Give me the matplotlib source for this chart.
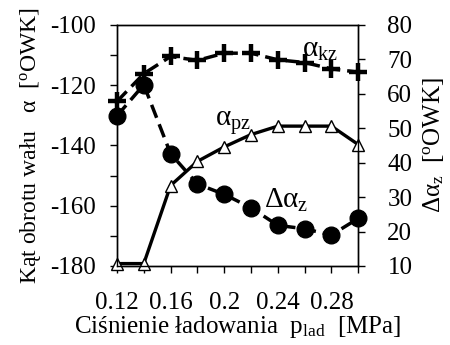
import matplotlib
matplotlib.use("Agg")
import matplotlib.pyplot as plt
import matplotlib.transforms as mtransforms

plt.rcParams["font.family"] = ["Liberation Serif", "DejaVu Serif"]
plt.rcParams["mathtext.fontset"] = "custom"
plt.rcParams["mathtext.rm"] = "Liberation Serif"
plt.rcParams["mathtext.it"] = "Liberation Serif"

# charging pressure [MPa]
p_lad = [0.12, 0.14, 0.16, 0.18, 0.20, 0.22, 0.24, 0.26, 0.28, 0.30]
# crank angles [deg OWK], left axis
alpha_kz = [-125.4, -116.2, -110.5, -111.8, -109.4, -109.4, -111.6, -112.5, -114.6, -115.7]
alpha_pz = [-179.2, -179.2, -153.3, -145.3, -140.5, -136.4, -133.6, -133.6, -133.6, -139.7]
# delta alpha, right axis
delta_alpha = [53.6, 62.6, 42.6, 33.8, 30.8, 26.9, 21.8, 20.8, 19.0, 23.8]

x_ticks = [0.12, 0.14, 0.16, 0.18, 0.20, 0.22, 0.24, 0.26, 0.28, 0.30]
x_labels = ["0.12", "", "0.16", "", "0.2", "", "0.24", "", "0.28", ""]
left_ticks = [-180, -160, -140, -120, -100]
right_ticks = [10, 20, 30, 40, 50, 60, 70, 80]

FS = 18

fig = plt.figure(figsize=(4.5, 3.45), dpi=100)
ax = fig.add_axes([0.26, 0.229, 0.536, 0.699])
ax2 = ax.twinx()

ax.plot(p_lad, alpha_kz, color="black", lw=2.5, ls=(0, (4, 2)),
        marker="+", markersize=13, markeredgewidth=3.2, clip_on=False, zorder=3)
ax.plot(p_lad, alpha_pz, color="black", lw=2.4, ls="-",
        marker="^", markersize=8, markerfacecolor="white",
        markeredgecolor="black", markeredgewidth=1.0, clip_on=False, zorder=3)
ax2.plot(p_lad, delta_alpha, color="black", lw=2.5, ls=(0, (4, 2)),
         marker="o", markersize=12, clip_on=False, zorder=3)

ax.set_xlim(0.12, 0.30)
ax.set_ylim(-180, -100)
ax2.set_ylim(10, 80)

ax.set_xticks(x_ticks)
ax.set_xticklabels(x_labels)
ax.set_yticks(left_ticks)
ax.set_yticklabels([str(t) for t in left_ticks])
ax.set_yticks([-170, -150, -130, -110], minor=True)
ax2.set_yticks(right_ticks)

shift = mtransforms.ScaledTranslation(12 / 100, 0, fig.dpi_scale_trans)
for lbl in ax.get_xticklabels():
    lbl.set_transform(lbl.get_transform() + shift)

for a in (ax, ax2):
    a.tick_params(direction="out", length=5, width=1, labelsize=FS)
    for s in a.spines.values():
        s.set_linewidth(1.0)
ax.tick_params(axis="x", pad=14)
ax.tick_params(axis="y", which="minor", direction="out", length=5, width=1)
ax.tick_params(axis="y", pad=10)
ax2.tick_params(axis="y", pad=16)

ax.set_xlabel("Ciśnienie ładowania  p$_{\\rm lad}$  [MPa]", fontsize=FS, labelpad=0)
ax.set_ylabel("Kąt obrotu wału   $\\alpha$  [$^{\\rm o}$OWK]", fontsize=17, labelpad=5)
ax2.set_ylabel("$\\Delta\\alpha_{\\rm z}$  [$^{\\rm o}$OWK]", fontsize=FS, labelpad=6)

ax.text(0.2716, -108.3, "$\\alpha_{\\rm kz}$", fontsize=21, ha="center", va="center")
ax.text(0.2066, -132.6, "$\\alpha_{\\rm pz}$", fontsize=21, ha="center", va="center")
ax2.text(0.2462, 29.1, "$\\Delta\\alpha_{\\rm z}$", fontsize=21, ha="center", va="center")

fig.savefig("out.png", dpi=100)
